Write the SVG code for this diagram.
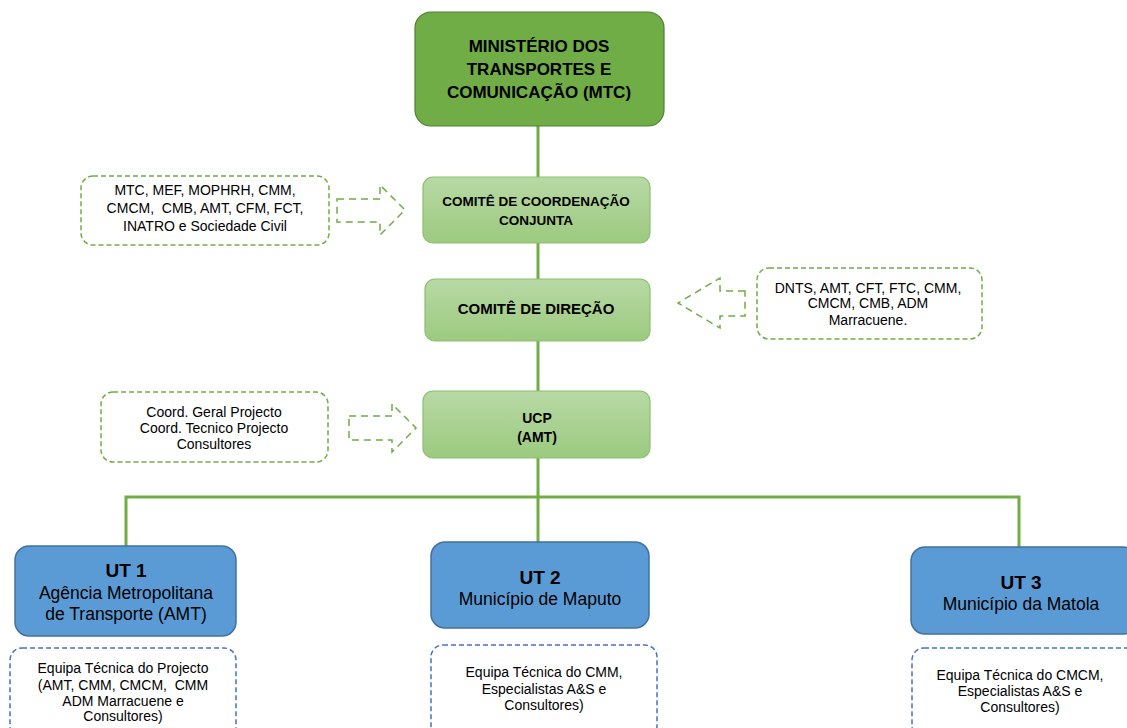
<svg xmlns="http://www.w3.org/2000/svg" width="1127" height="728" viewBox="0 0 1127 728">
<defs>
<linearGradient id="lg" x1="0" y1="0" x2="0" y2="1">
<stop offset="0" stop-color="#b8d9a5"/>
<stop offset="1" stop-color="#9cca7f"/>
</linearGradient>
<style>
text{font-family:"Liberation Sans",Arial,sans-serif;fill:#000;text-anchor:middle;white-space:pre}
.b{font-weight:bold}
.conn{stroke:#70ad47;stroke-width:3;fill:none}
.gbox{fill:url(#lg);stroke:#8cbf6e;stroke-width:1.2}
.ubox{fill:#5b9bd5;stroke:#41719c;stroke-width:1.5}
.gdash{fill:#fff;stroke:#70ad47;stroke-width:1.5;stroke-dasharray:5,3}
.bdash{fill:#fff;stroke:#4472c4;stroke-width:1.5;stroke-dasharray:5,3}
.arr{fill:none;stroke:#70ad47;stroke-width:1.5;stroke-dasharray:7,5}
.s14{font-size:14px}
.ut{font-size:19px;font-weight:bold}
.s17{font-size:17.5px}
</style>
</defs>
<rect width="1127" height="728" fill="#fff"/>
<g id="connectors">
<line class="conn" x1="538" y1="126" x2="538" y2="542"/>
<polyline class="conn" points="126,546 126,497 1019,497 1019,548"/>
<path class="arr" d="M337,199 H380 V185 L405,210 L380,235 V222 H337 Z"/>
<path class="arr" d="M745,291 H720 V278 L678,303 L720,328 V316 H745 Z"/>
<path class="arr" d="M349,416 H392 V404 L416,428 L392,452 V440 H349 Z"/>
</g>
<g id="mtc">
<rect x="415" y="12" width="249" height="114" rx="16" fill="#70ad47" stroke="#507e32" stroke-width="1.2"/>
<text class="b" font-size="17" x="539" y="52">MINISTÉRIO DOS</text>
<text class="b" font-size="17" x="539" y="75">TRANSPORTES E</text>
<text class="b" font-size="17" x="539" y="98">COMUNICAÇÃO (MTC)</text>
</g>
<g id="ccc">
<rect class="gbox" x="423" y="177" width="227" height="66" rx="10"/>
<text class="b" font-size="13.5" x="536" y="206">COMITÊ DE COORDENAÇÃO</text>
<text class="b" font-size="13.5" x="536" y="225">CONJUNTA</text>
</g>
<g id="ccc-members">
<rect class="gdash" x="81" y="176" width="248" height="69" rx="12"/>
<text class="s14" x="205" y="195">MTC, MEF, MOPHRH, CMM,</text>
<text class="s14" x="205" y="213" xml:space="preserve">CMCM,  CMB, AMT, CFM, FCT,</text>
<text class="s14" x="205" y="231">INATRO e Sociedade Civil</text>
</g>
<g id="cd">
<rect class="gbox" x="425" y="279" width="225" height="62" rx="10"/>
<text class="b" font-size="15" x="536" y="314">COMITÊ DE DIREÇÃO</text>
</g>
<g id="cd-members">
<rect class="gdash" x="757" y="268" width="225" height="71" rx="12"/>
<text class="s14" x="868" y="293">DNTS, AMT, CFT, FTC, CMM,</text>
<text class="s14" x="868" y="308">CMCM, CMB, ADM</text>
<text class="s14" x="868" y="325">Marracuene.</text>
</g>
<g id="ucp">
<rect class="gbox" x="423" y="391" width="227" height="67" rx="10"/>
<text class="b s14" x="537" y="423">UCP</text>
<text class="b s14" x="537" y="442">(AMT)</text>
</g>
<g id="ucp-members">
<rect class="gdash" x="101" y="392" width="227" height="70" rx="12"/>
<text class="s14" x="214" y="417">Coord. Geral Projecto</text>
<text class="s14" x="214" y="433">Coord. Tecnico Projecto</text>
<text class="s14" x="214" y="449">Consultores</text>
</g>
<g id="ut1">
<rect class="ubox" x="15" y="546" width="221" height="90" rx="14"/>
<text class="ut" x="126" y="577">UT 1</text>
<text class="s17" x="126" y="599">Agência Metropolitana</text>
<text class="s17" x="126" y="620">de Transporte (AMT)</text>
</g>
<g id="ut1-team">
<rect class="bdash" x="10" y="648" width="226" height="90" rx="12"/>
<text class="s14" x="123" y="673">Equipa Técnica do Projecto</text>
<text class="s14" x="123" y="690" xml:space="preserve">(AMT, CMM, CMCM,  CMM</text>
<text class="s14" x="123" y="706">ADM Marracuene e</text>
<text class="s14" x="123" y="721">Consultores)</text>
</g>
<g id="ut2">
<rect class="ubox" x="431" y="542" width="218" height="86" rx="14"/>
<text class="ut" x="540" y="584">UT 2</text>
<text class="s17" x="540" y="605">Município de Maputo</text>
</g>
<g id="ut2-team">
<rect class="bdash" x="431" y="645" width="226" height="93" rx="12"/>
<text class="s14" x="544" y="677">Equipa Técnica do CMM,</text>
<text class="s14" x="544" y="694">Especialistas A&amp;S e</text>
<text class="s14" x="544" y="710">Consultores)</text>
</g>
<g id="ut3">
<rect class="ubox" x="911" y="547" width="226" height="87" rx="14"/>
<text class="ut" x="1021" y="589">UT 3</text>
<text class="s17" x="1021" y="610">Município da Matola</text>
</g>
<g id="ut3-team">
<rect class="bdash" x="912" y="648" width="226" height="90" rx="12"/>
<text class="s14" x="1020" y="680">Equipa Técnica do CMCM,</text>
<text class="s14" x="1020" y="696">Especialistas A&amp;S e</text>
<text class="s14" x="1020" y="712">Consultores)</text>
</g>
</svg>
